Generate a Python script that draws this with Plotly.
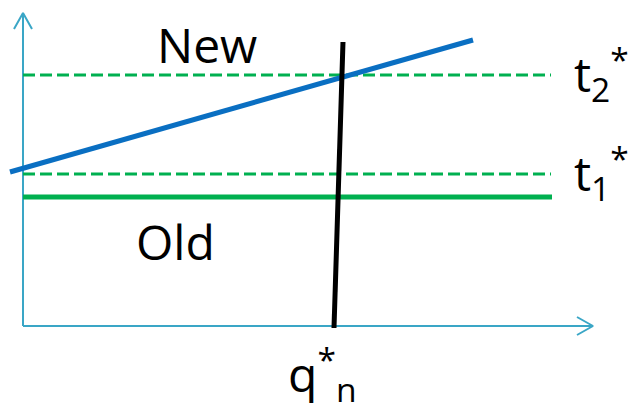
import plotly.graph_objects as go

# Drawing in a canvas-like coordinate system (x right, y down)
W, H = 637, 409

# Axes with arrow heads
axis_origin = (23, 326)
y_axis_top = 13
x_axis_right = 593
arrow_len = 16
arrow_half = 9

# Horizontal thresholds
t2_level = 75
t1_level = 174
old_level = 197
line_end = 551

# "New" schedule (rising line)
new_x = [10, 473]
new_y = [172, 40]

# Vertical q*n line
q_x = [343, 334]
q_y = [42, 328]

AXIS_C = "#3AA6C6"
GREEN = "#00B050"
BLUE = "#0A6FC2"
FONT = "Open Sans, DejaVu Sans, sans-serif"

fig = go.Figure()

ox, oy = axis_origin
# vertical axis with arrow
fig.add_trace(go.Scatter(x=[ox, ox], y=[oy, y_axis_top], mode="lines",
                         line=dict(color=AXIS_C, width=2)))
fig.add_trace(go.Scatter(x=[ox - arrow_half, ox, ox + arrow_half],
                         y=[y_axis_top + arrow_len, y_axis_top, y_axis_top + arrow_len],
                         mode="lines", line=dict(color=AXIS_C, width=2)))
# horizontal axis with arrow
fig.add_trace(go.Scatter(x=[ox, x_axis_right], y=[oy, oy], mode="lines",
                         line=dict(color=AXIS_C, width=2)))
fig.add_trace(go.Scatter(x=[x_axis_right - arrow_len, x_axis_right, x_axis_right - arrow_len],
                         y=[oy - arrow_half, oy, oy + arrow_half],
                         mode="lines", line=dict(color=AXIS_C, width=2)))

# dashed t2*, t1* levels
for lvl in (t2_level, t1_level):
    fig.add_trace(go.Scatter(x=[ox, line_end], y=[lvl, lvl], mode="lines",
                             line=dict(color=GREEN, width=3, dash="12px,5px")))
# old solid level
fig.add_trace(go.Scatter(x=[ox, line_end + 1], y=[old_level, old_level], mode="lines",
                         line=dict(color=GREEN, width=5)))

# new rising line
fig.add_trace(go.Scatter(x=new_x, y=new_y, mode="lines",
                         line=dict(color=BLUE, width=5)))

# vertical q*n line
fig.add_trace(go.Scatter(x=q_x, y=q_y, mode="lines",
                         line=dict(color="black", width=5)))

labels = [
    (207, 44, "New"),
    (175, 241, "Old"),
    (601, 74, "t<sub>2</sub><sup>*</sup>"),
    (601, 173, "t<sub>1</sub><sup>*</sup>"),
    (322, 374, "q<sup>*</sup><sub>n</sub>"),
]
for x, y, txt in labels:
    fig.add_annotation(x=x, y=y, text=txt, showarrow=False,
                       font=dict(family=FONT, size=48, color="black"),
                       xanchor="center", yanchor="middle")

fig.update_layout(
    width=W, height=H, margin=dict(l=0, r=0, t=0, b=0),
    paper_bgcolor="white", plot_bgcolor="white", showlegend=False,
    xaxis=dict(range=[0, W], visible=False, fixedrange=True),
    yaxis=dict(range=[H, 0], visible=False, fixedrange=True),
)

fig.write_html("out.html")
